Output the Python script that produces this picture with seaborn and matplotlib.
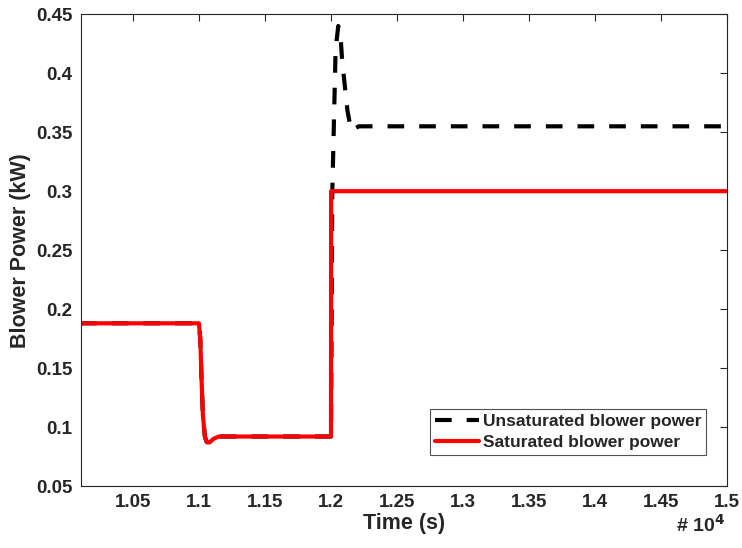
import numpy as np
import pandas as pd
import matplotlib
matplotlib.use("Agg")
import matplotlib.pyplot as plt
from matplotlib.ticker import FuncFormatter, FixedLocator
from matplotlib.lines import Line2D
import seaborn as sns

# Data (time in seconds, power in kW)
t_unsat = [10100, 11000, 11010, 11020, 11030, 11045, 11060, 11080, 11110, 11150,
           12000, 12010, 12035, 12055, 12070, 12085, 12125, 12145, 12160, 12180,
           12210, 15000]
p_unsat = [0.188, 0.188, 0.175, 0.140, 0.110, 0.092, 0.087, 0.087, 0.090, 0.092,
           0.092, 0.300, 0.420, 0.440, 0.435, 0.410, 0.368, 0.356, 0.351, 0.353,
           0.355, 0.355]
t_sat = [10100, 11000, 11010, 11020, 11030, 11045, 11060, 11080, 11110, 11150,
         12000, 12001, 15000]
p_sat = [0.188, 0.188, 0.175, 0.140, 0.110, 0.092, 0.087, 0.087, 0.090, 0.092,
         0.092, 0.300, 0.300]

x_ticks = [10500, 11000, 11500, 12000, 12500, 13000, 13500, 14000, 14500, 15000]
y_ticks = [0.05, 0.1, 0.15, 0.2, 0.25, 0.3, 0.35, 0.4, 0.45]
labels = ["Unsaturated blower power", "Saturated blower power"]

sns.set_style("white")
plt.rcParams['font.family'] = ['Liberation Sans', 'DejaVu Sans']
plt.rcParams['font.weight'] = 'bold'

df_u = pd.DataFrame({"t": t_unsat, "p": p_unsat})
df_s = pd.DataFrame({"t": t_sat, "p": p_sat})

fig = plt.figure(figsize=(7.42, 5.48), dpi=100)
ax = fig.add_axes([0.109, 0.113, 0.871, 0.861])

DASH = [4.0, 3.6]
sns.lineplot(data=df_u, x="t", y="p", ax=ax, color="black", linewidth=3,
             sort=False, estimator=None)
ax.lines[-1].set_dashes(DASH)
sns.lineplot(data=df_s, x="t", y="p", ax=ax, color="red", linewidth=3,
             sort=False, estimator=None)

ax.set_xlim(10106, 15000)
ax.set_ylim(0.05, 0.45)
ax.xaxis.set_major_locator(FixedLocator(x_ticks))
ax.yaxis.set_major_locator(FixedLocator(y_ticks))
ax.xaxis.set_major_formatter(FuncFormatter(lambda v, p: f"{v/1e4:g}"))
ax.yaxis.set_major_formatter(FuncFormatter(lambda v, p: f"{v:g}"))
ax.tick_params(direction="in", top=True, right=True, length=5, width=0.8,
               labelsize=13.5, colors="#262626", pad=6)
for lab in ax.get_xticklabels() + ax.get_yticklabels():
    lab.set_fontweight("bold")
for s in ax.spines.values():
    s.set_color("#262626")
    s.set_linewidth(0.8)

ax.set_xlabel("Time (s)", fontsize=15.5, fontweight="bold", labelpad=1)
ax.set_ylabel("Blower Power (kW)", fontsize=15.5, fontweight="bold", labelpad=4)

handles = [Line2D([0], [0], color="black", lw=3, dashes=DASH),
           Line2D([0], [0], color="red", lw=3)]
leg = ax.legend(handles, labels, loc="lower right", bbox_to_anchor=(0.968, 0.066),
                prop={"weight": "bold", "size": 12.5}, frameon=True, fancybox=False,
                borderpad=0.3, labelspacing=0.3, handlelength=2.55,
                handletextpad=0.2, borderaxespad=0)
leg.get_frame().set_edgecolor("#262626")
leg.get_frame().set_linewidth(0.8)

fig.text(0.977, 0.022, r"# 10$^{\mathbf{4}}$", ha="right", va="bottom",
         fontsize=14, fontweight="bold", color="#262626")

fig.savefig("out.png", dpi=100)
